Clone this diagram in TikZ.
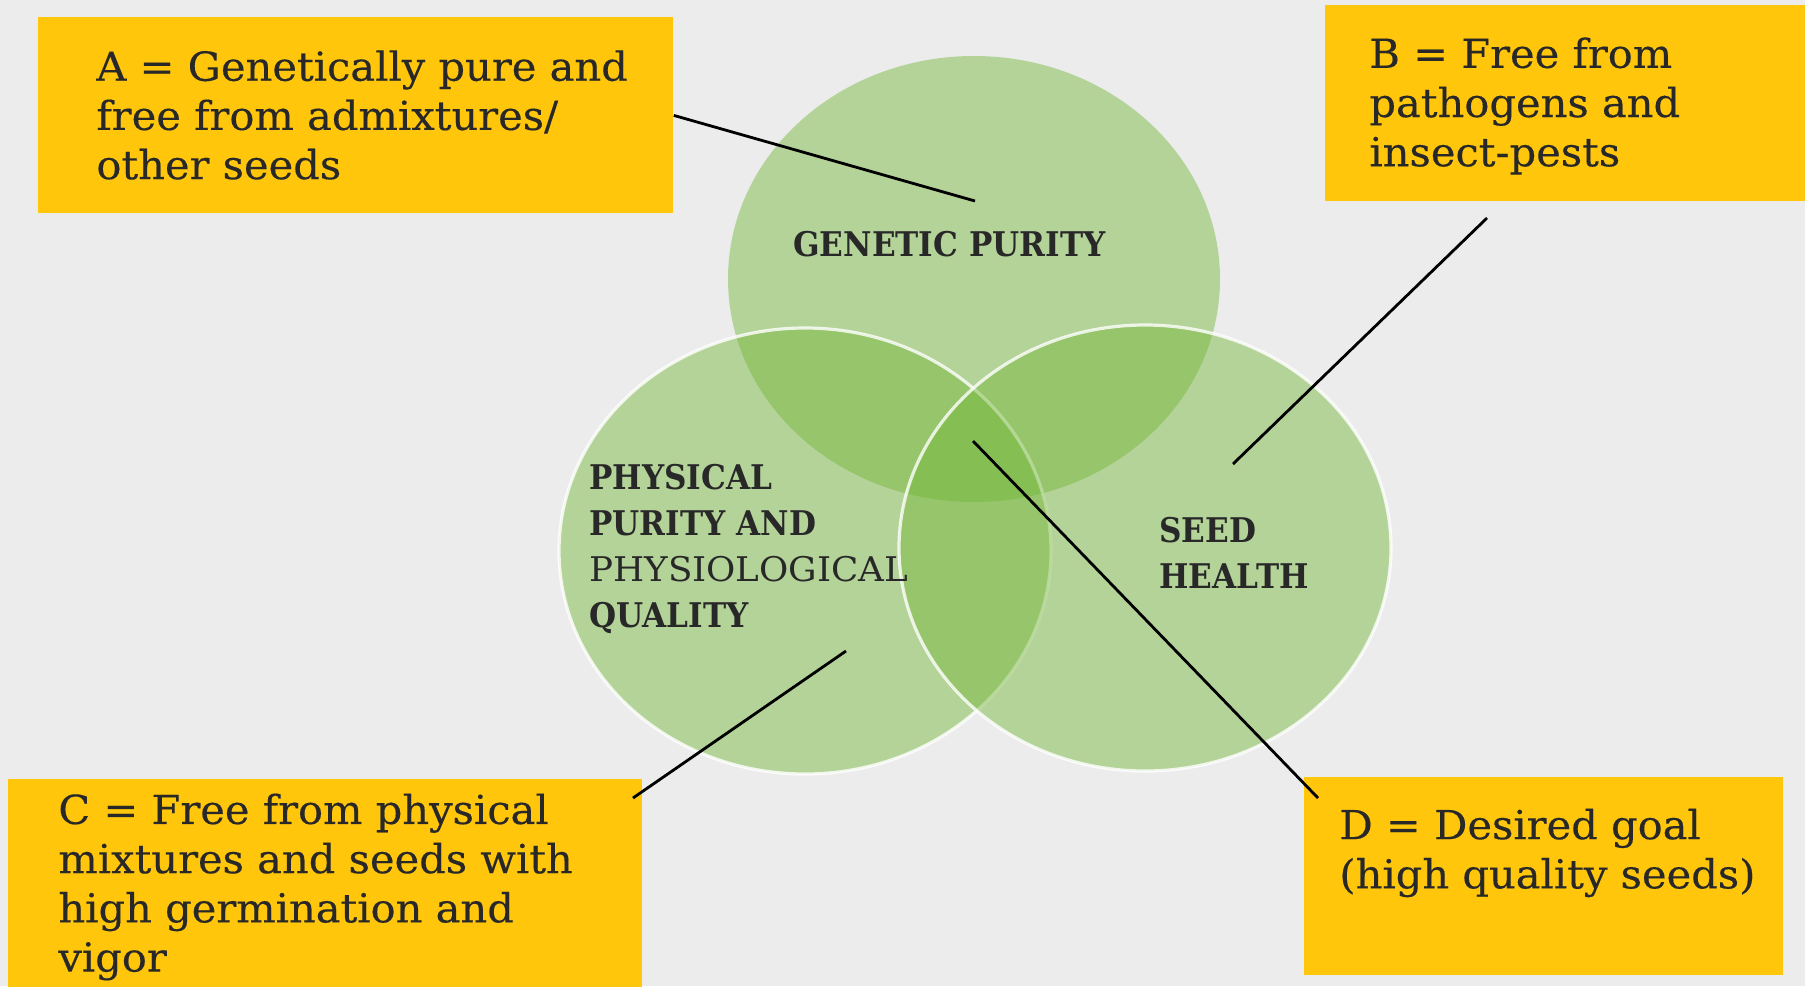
\documentclass[tikz,border=0pt]{standalone}
\usepackage{fontspec}
\setmainfont[FakeStretch=1.04, FakeBold=0.3]{DejaVu Serif}
\newfontfamily\labelfont[FakeStretch=0.915]{DejaVu Serif}
\newfontfamily\labelthin[FakeStretch=1.05]{DejaVu Serif}

\definecolor{bggray}{RGB}{236,236,236}
\definecolor{boxyellow}{RGB}{255,198,11}
\definecolor{seedgreen}{RGB}{115,182,55}
\definecolor{inkgray}{RGB}{40,40,40}

\tikzset{
  infobox/.style={fill=boxyellow, inner sep=0pt, anchor=north west},
  infotext/.style={inner sep=0pt, anchor=west, align=left, text=inkgray,
    font=\fontsize{20}{24.6}\selectfont},
  circletext/.style={inner sep=0pt, anchor=west, align=left, text=inkgray,
    font=\labelfont\bfseries\fontsize{17}{23}\selectfont},
  venn/.style={fill=seedgreen, fill opacity=0.46},
  vennrim/.style={venn, draw=white, draw opacity=0.8, line width=1.6pt},
  pointer/.style={draw=black, line width=1.4pt},
}

\begin{document}
\begin{tikzpicture}[x=0.5pt, y=-0.5pt]
  \useasboundingbox (0,0) rectangle (1805,986);
  \fill[bggray] (0,0) rectangle (1805,986);

  % the three circles
  \fill[venn] (974,279) ellipse [x radius=123pt, y radius=111.5pt];
  \filldraw[vennrim] (805,551) ellipse [x radius=123pt, y radius=111.5pt];
  \filldraw[vennrim] (1145,548) ellipse [x radius=123pt, y radius=111.5pt];

  % circle labels
  \node[circletext] (genetic) at (793,244) {GENETIC PURITY};
  \node[circletext] (physical) at (589,549)
    {PHYSICAL\\PURITY AND\\{\labelthin\mdseries PHYSIOLOGICAL}\\QUALITY};
  \node[circletext] (health) at (1159,553) {SEED\\HEALTH};

  % yellow boxes
  \node[infobox, minimum width=317.5pt, minimum height=98pt] (boxA) at (38,17) {};
  \node[infotext] (textA) at (96,115)
    {A = Genetically pure and\\free from admixtures/\\other seeds};
  \node[infobox, minimum width=242.5pt, minimum height=98pt] (boxB) at (1325,5) {};
  \node[infotext] (textB) at (1369,106)
    {B = Free from\\pathogens and\\insect-pests};
  \node[infobox, minimum width=317pt, minimum height=105.5pt] (boxC) at (8,779) {};
  \node[infotext] (textC) at (58,887)
    {C = Free from physical\\mixtures and seeds with\\high germination and\\vigor};
  \node[infobox, minimum width=239.5pt, minimum height=99pt] (boxD) at (1304,777) {};
  \node[infotext] (textD) at (1339,853)
    {D = Desired goal\\(high quality seeds)};

  % pointers
  \coordinate (aTip) at (975,201);
  \coordinate (bFoot) at (1487,218);
  \coordinate (bTip) at (1233,464);
  \coordinate (cTip) at (846,651);
  \coordinate (cFoot) at (633,798);
  \coordinate (dTip) at (973,441);
  \coordinate (dFoot) at (1318,798);
  \draw[pointer] (boxA.east) -- (aTip);
  \draw[pointer] (bFoot) -- (bTip);
  \draw[pointer] (cTip) -- (cFoot);
  \draw[pointer] (dTip) -- (dFoot);
\end{tikzpicture}
\end{document}
